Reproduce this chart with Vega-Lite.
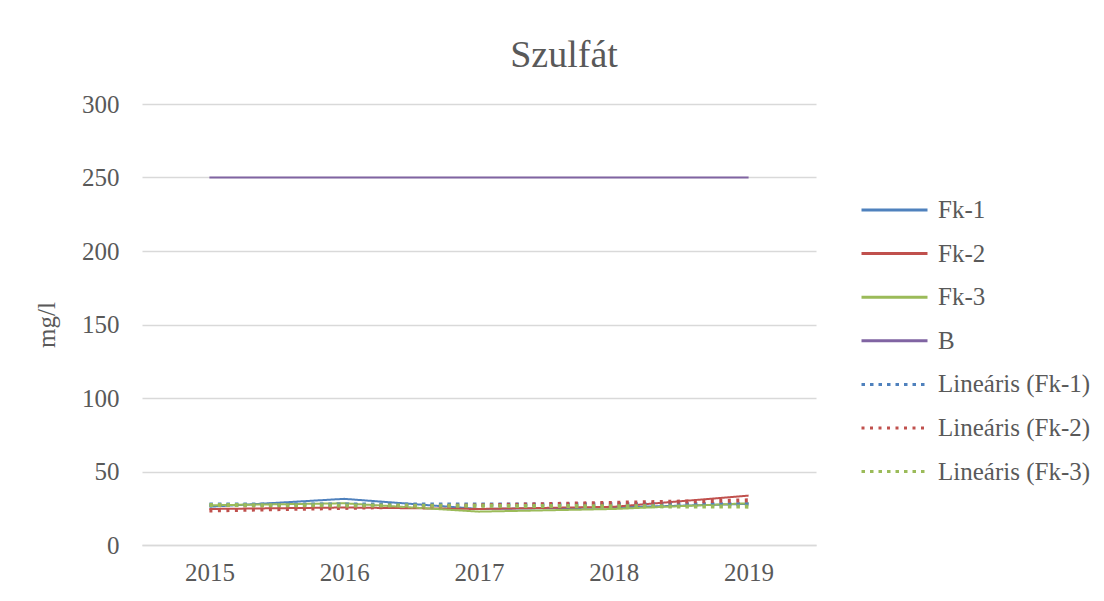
{
  "$schema": "https://vega.github.io/schema/vega-lite/v6.json",
  "width": 674,
  "height": 441,
  "autosize": {"type": "none"},
  "padding": {"left": 142, "top": 104, "right": 288, "bottom": 56},
  "background": "white",
  "title": {
    "text": "Szulfát",
    "font": "Liberation Serif",
    "fontSize": 38,
    "fontWeight": "normal",
    "color": "#595959",
    "anchor": "middle",
    "dx": 85,
    "offset": -13,
    "baseline": "alphabetic"
  },
  "config": {
    "view": {"stroke": null},
    "font": "Liberation Serif",
    "axis": {
      "labelFont": "Liberation Serif",
      "titleFont": "Liberation Serif",
      "labelColor": "#595959",
      "titleColor": "#595959",
      "labelFontSize": 25,
      "titleFontSize": 25,
      "titleFontWeight": "normal",
      "gridColor": "#D9D9D9",
      "gridWidth": 1.5,
      "ticks": false,
      "domainColor": "#D9D9D9",
      "domainWidth": 1.5,
      "labelOverlap": false
    }
  },
  "data": {
    "values": [
      {"year": "2015", "series": "Fk-1", "value": 26.0},
      {"year": "2016", "series": "Fk-1", "value": 31.4},
      {"year": "2017", "series": "Fk-1", "value": 24.5},
      {"year": "2018", "series": "Fk-1", "value": 25.5},
      {"year": "2019", "series": "Fk-1", "value": 28.0},
      {"year": "2015", "series": "Fk-2", "value": 24.5},
      {"year": "2016", "series": "Fk-2", "value": 25.5},
      {"year": "2017", "series": "Fk-2", "value": 24.5},
      {"year": "2018", "series": "Fk-2", "value": 26.0},
      {"year": "2019", "series": "Fk-2", "value": 33.6},
      {"year": "2015", "series": "Fk-3", "value": 27.0},
      {"year": "2016", "series": "Fk-3", "value": 28.4},
      {"year": "2017", "series": "Fk-3", "value": 22.7},
      {"year": "2018", "series": "Fk-3", "value": 24.5},
      {"year": "2019", "series": "Fk-3", "value": 28.4},
      {"year": "2015", "series": "B", "value": 250},
      {"year": "2016", "series": "B", "value": 250},
      {"year": "2017", "series": "B", "value": 250},
      {"year": "2018", "series": "B", "value": 250},
      {"year": "2019", "series": "B", "value": 250},
      {"year": "2015", "series": "Lineáris (Fk-1)", "value": 27.5},
      {"year": "2019", "series": "Lineáris (Fk-1)", "value": 27.7},
      {"year": "2015", "series": "Lineáris (Fk-2)", "value": 23.5},
      {"year": "2019", "series": "Lineáris (Fk-2)", "value": 30.4},
      {"year": "2015", "series": "Lineáris (Fk-3)", "value": 27.2},
      {"year": "2019", "series": "Lineáris (Fk-3)", "value": 26.1}
    ]
  },
  "encoding": {
    "x": {
      "field": "year",
      "type": "ordinal",
      "scale": {"type": "point", "padding": 0.5},
      "axis": {"title": null, "labelAngle": 0, "labelPadding": 15, "grid": false}
    },
    "y": {
      "field": "value",
      "type": "quantitative",
      "scale": {"domain": [0, 300]},
      "axis": {"title": "mg/l", "values": [0, 50, 100, 150, 200, 250, 300], "labelPadding": 23, "titlePadding": 22, "domain": false}
    },
    "color": {
      "field": "series",
      "type": "nominal",
      "scale": {
        "domain": ["Fk-1", "Fk-2", "Fk-3", "B", "Lineáris (Fk-1)", "Lineáris (Fk-2)", "Lineáris (Fk-3)"],
        "range": ["#4F81BD", "#C0504D", "#9BBB59", "#8064A2", "#4F81BD", "#C0504D", "#9BBB59"]
      },
      "legend": {
        "title": null,
        "orient": "none",
        "legendX": 740,
        "legendY": 93.5,
        "padding": 0,
        "symbolType": "M-3,0H3",
        "symbolSize": 484,
        "symbolStrokeWidth": 3,
        "labelOffset": 31,
        "rowPadding": 17.6,
        "labelFont": "Liberation Serif",
        "labelFontSize": 25,
        "labelColor": "#595959",
        "labelLimit": 300
      }
    },
    "strokeDash": {
      "field": "series",
      "type": "nominal",
      "scale": {
        "domain": ["Fk-1", "Fk-2", "Fk-3", "B", "Lineáris (Fk-1)", "Lineáris (Fk-2)", "Lineáris (Fk-3)"],
        "range": [[1, 0], [1, 0], [1, 0], [1, 0], [3.5, 5], [3, 5.5], [3.5, 5]]
      },
      "legend": {
        "title": null,
        "orient": "none",
        "legendX": 740,
        "legendY": 93.5,
        "padding": 0,
        "symbolType": "M-3,0H3",
        "symbolSize": 484,
        "symbolStrokeWidth": 3,
        "labelOffset": 31,
        "rowPadding": 17.6,
        "labelFont": "Liberation Serif",
        "labelFontSize": 25,
        "labelColor": "#595959",
        "labelLimit": 300
      }
    }
  },
  "layer": [
    {
      "transform": [{"filter": "indexof(datum.series, 'Lin') < 0"}],
      "mark": {"type": "line", "strokeWidth": 2}
    },
    {
      "transform": [{"filter": "indexof(datum.series, 'Lin') >= 0"}],
      "mark": {"type": "line", "strokeWidth": 4}
    }
  ]
}
